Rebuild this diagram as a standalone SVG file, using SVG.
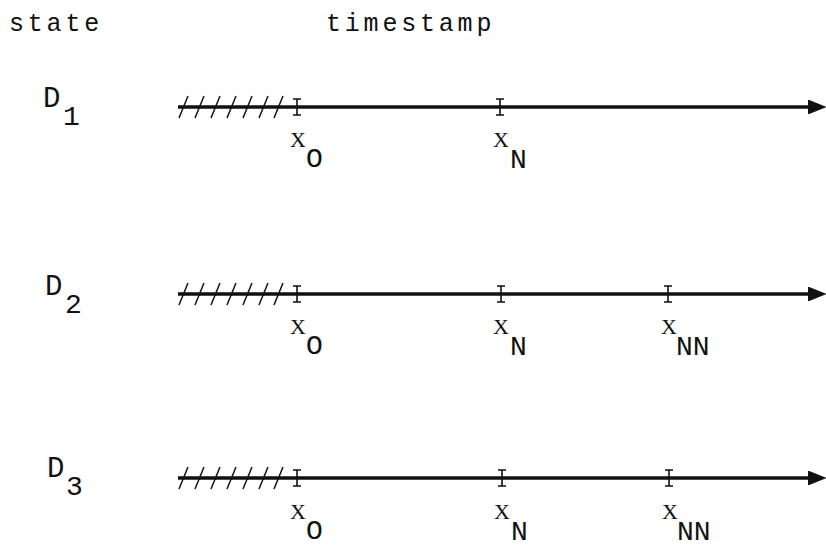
<svg xmlns="http://www.w3.org/2000/svg" width="826" height="547" viewBox="0 0 826 547">
<defs>
<style>
.hdr{font-family:"Liberation Mono",monospace;font-size:25px;letter-spacing:3.8px;fill:#111}
.d{font-family:"Liberation Mono",monospace;font-size:29px;fill:#111}
.ds{font-family:"Liberation Mono",monospace;font-size:28px;fill:#111}
.x{font-family:"Liberation Serif",serif;font-size:22px;fill:#111}
.xs{font-family:"Liberation Mono",monospace;font-size:28px;fill:#111}
.axis{stroke:#111;stroke-width:3.4;fill:none}
.tk{stroke:#111;stroke-width:1.6;fill:none}
.hatch{stroke:#111;stroke-width:1.5;fill:none}
</style>
<marker id="arr" markerWidth="5.5" markerHeight="4.4" refX="0" refY="2.2" orient="auto" markerUnits="strokeWidth">
<polygon points="0,0 5.5,2.2 0,4.4" fill="#111"/>
</marker>
<g id="tick"><path class="tk" d="M0,-8 V8 M-4,-8 H4 M-4,8 H4"/></g>
<g id="hatches"><path class="hatch" d="M179,11 L188,-11 M195,11 L204,-11 M211,11 L220,-11 M227,11 L236,-11 M243,11 L252,-11 M259,11 L268,-11 M274,11 L283,-11"/></g>
</defs>
<rect width="826" height="547" fill="#fff"/>
<g id="header">
<text class="hdr" x="9" y="31">state</text>
<text class="hdr" x="326" y="31">timestamp</text>
</g>
<g id="connectors">
<line class="axis" x1="178" y1="107" x2="808" y2="107" marker-end="url(#arr)"/>
<line class="axis" x1="178" y1="294" x2="808" y2="294" marker-end="url(#arr)"/>
<line class="axis" x1="178" y1="478" x2="808" y2="478" marker-end="url(#arr)"/>
</g>
<g id="row-D1">
<text class="d" x="43" y="107">D</text><text class="ds" x="63" y="125">1</text>
<use href="#hatches" y="107"/>
<use href="#tick" x="297" y="107"/>
<use href="#tick" x="500" y="107"/>
<text class="x" x="290" y="147">X</text><text class="xs" x="306" y="167">O</text>
<text class="x" x="493" y="147">X</text><text class="xs" x="510" y="168">N</text>
</g>
<g id="row-D2">
<text class="d" x="45" y="295">D</text><text class="ds" x="65" y="313">2</text>
<use href="#hatches" y="294"/>
<use href="#tick" x="297" y="294"/>
<use href="#tick" x="501" y="294"/>
<use href="#tick" x="668" y="294"/>
<text class="x" x="290" y="334">X</text><text class="xs" x="306" y="354">O</text>
<text class="x" x="493" y="334">X</text><text class="xs" x="510" y="355">N</text>
<text class="x" x="661" y="334">X</text><text class="xs" x="676" y="355">NN</text>
</g>
<g id="row-D3">
<text class="d" x="47" y="477">D</text><text class="ds" x="66" y="495">3</text>
<use href="#hatches" y="478"/>
<use href="#tick" x="297" y="478"/>
<use href="#tick" x="502" y="478"/>
<use href="#tick" x="669" y="478"/>
<text class="x" x="290" y="519">X</text><text class="xs" x="306" y="539">O</text>
<text class="x" x="494" y="519">X</text><text class="xs" x="511" y="540">N</text>
<text class="x" x="662" y="519">X</text><text class="xs" x="677" y="540">NN</text>
</g>
</svg>
